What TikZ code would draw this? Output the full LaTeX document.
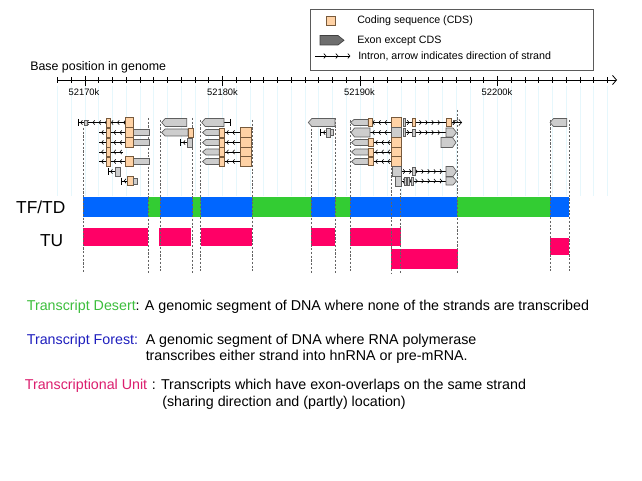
\documentclass[tikz,border=0pt]{standalone}
\usepackage{fontspec}
\setmainfont{Liberation Sans}
\usetikzlibrary{arrows.meta,decorations.markings}
\definecolor{tdgreen}{RGB}{51,204,51}
\definecolor{tfblue}{RGB}{0,102,255}
\definecolor{tupink}{RGB}{255,0,102}
\definecolor{txtgreen}{RGB}{60,190,60}
\definecolor{txtblue}{RGB}{30,30,190}
\definecolor{txtpink}{RGB}{220,30,110}
\definecolor{cdsfill}{RGB}{255,210,165}
\definecolor{cdsline}{RGB}{120,90,60}
\definecolor{utrfill}{RGB}{205,205,205}
\definecolor{utrline}{RGB}{95,95,95}
\definecolor{legexon}{RGB}{110,110,110}
\definecolor{gridc}{RGB}{230,247,252}
\definecolor{dashc}{RGB}{100,100,100}
\newcommand{\rwA}{122.5}
\newcommand{\rwB}{132.5}
\newcommand{\rwC}{142.5}
\newcommand{\rwD}{152}
\newcommand{\rwE}{161.5}
\newcommand{\rwF}{171.5}
\newcommand{\rwG}{181}
\newcommand{\gnCds}[4]{\draw[cdsst] (#1,{#3-#4/2}) rectangle (#2,{#3+#4/2});}
\newcommand{\gnBox}[4]{\draw[utrst] (#1,{#3-#4/2}) rectangle (#2,{#3+#4/2});}
\newcommand{\gnPL}[4]{\draw[utrst] (#1,#3) -- ({#1+3.5},{#3-#4/2}) -- (#2,{#3-#4/2}) -- (#2,{#3+#4/2}) -- ({#1+3.5},{#3+#4/2}) -- cycle;}
\newcommand{\gnPR}[4]{\draw[utrst] (#2,#3) -- ({#2-3.5},{#3-#4/2}) -- (#1,{#3-#4/2}) -- (#1,{#3+#4/2}) -- ({#2-3.5},{#3+#4/2}) -- cycle;}
\newcommand{\gnIL}[3]{\draw[intronL] (#1,#3) -- (#2,#3);}
\newcommand{\gnIR}[3]{\draw[intronR] (#1,#3) -- (#2,#3);}
\newcommand{\gnTk}[2]{\draw[tickst] (#1,{#2-3.5}) -- (#1,{#2+3.5});}
\begin{document}
\begin{tikzpicture}[x=0.75pt,y=-0.75pt,
  cdsst/.style={draw=cdsline,fill=cdsfill,line width=0.5pt},
  utrst/.style={draw=utrline,fill=utrfill,line width=0.5pt},
  tickst/.style={draw=black,line width=0.5pt},
  intronL/.style={draw=black,line width=0.45pt,postaction=decorate,
    decoration={markings,mark=between positions 2pt and -1pt step 4.6pt with {\draw[line width=0.45pt] (1.3pt,-1.6pt) -- (0,0) -- (1.3pt,1.6pt);}}},
  intronR/.style={draw=black,line width=0.45pt,postaction=decorate,
    decoration={markings,mark=between positions 3pt and -1pt step 4.6pt with {\draw[line width=0.45pt] (-1.3pt,-1.6pt) -- (0,0) -- (-1.3pt,1.6pt);}}},
  axisst/.style={draw=black,line width=0.6pt},
  gridst/.style={draw=gridc,line width=0.5pt},
  dashst/.style={draw=dashc,line width=0.45pt,dash pattern=on 1.6pt off 1.2pt},
  lbl/.style={inner sep=0pt,anchor=base west},
  legtxt/.style={lbl,font=\fontsize{8}{9.6}\selectfont},
  deftxt/.style={lbl,font=\fontsize{10.7}{12.8}\selectfont},
  ticklbl/.style={inner sep=0pt,anchor=base,font=\fontsize{7}{8}\selectfont}
]
\useasboundingbox (0,0) rectangle (642,481);
\fill[white] (0,0) rectangle (642,481);

% legend
\draw[draw={rgb,255:red,90;green,90;blue,90},line width=0.6pt] (310,9.5) rectangle (593,70);
\draw[cdsst] (326,16) rectangle (335,25);
\draw[draw=black!75,fill=legexon,line width=0.5pt] (320,35.5) -- (338,35.5) -- (344,40.3) -- (338,45) -- (320,45) -- cycle;
\coordinate (lga) at (315,56);
\coordinate (lgb) at (350,56);
\draw[tickst,line width=0.45pt] (lga) -- (lgb);
\foreach \xx in {326,338,350} \draw[line width=0.45pt] ({\xx-2.2},53.6) -- (\xx,56) -- ({\xx-2.2},58.4);
\node[legtxt] (lg1) at (357,24) {Coding sequence (CDS)};
\node[legtxt] (lg2) at (357,44) {Exon except CDS};
\node[legtxt] (lg3) at (358,59.5) {Intron, arrow indicates direction of strand};

% axis
\node[lbl,font=\fontsize{9.3}{11}\selectfont] (basepos) at (30,71) {Base position in genome};
\foreach \k in {-2,...,38} \draw[gridst] ({85+\k*13.75},86) -- ({85+\k*13.75},196);
\coordinate (axs) at (58,80);
\coordinate (axe) at (617,80);
\draw[axisst,-{Straight Barb[length=3pt,width=7pt]}] (axs) -- (axe);
\foreach \k in {-2,...,38} \draw[axisst,line width=0.5pt] ({85+\k*13.75},77.3) -- ({85+\k*13.75},82.7);
\foreach \k in {0,10,20,30} \draw[axisst] ({85+\k*13.75},76) -- ({85+\k*13.75},86.5);
\node[ticklbl] (t1) at (84,95.3) {52170k};
\node[ticklbl] (t2) at (222.5,95.3) {52180k};
\node[ticklbl] (t3) at (359.5,95.3) {52190k};
\node[ticklbl] (t4) at (497,95.3) {52200k};

% bars
\fill[tfblue] (82.7,196.5) rectangle (569.4,216.5);
\foreach \a/\b in {147.5/159.5,192.5/200.7,252/311,335/350.3,457.3/550.2}
  \fill[tdgreen] (\a,196.5) rectangle (\b,216.5);
\foreach \a/\b/\c/\d in {83.2/228/147.5/246, 159/227.5/191/245.5, 200.7/228/252/246, 311.3/228/335/246, 350.3/228/400.7/246, 391.2/248.5/457.6/268.5, 550/238/569.4/255}
  \fill[tupink] (\a,\b) rectangle (\c,\d);
\node[inner sep=0pt,anchor=base east,font=\fontsize{13}{15}\selectfont] (tftd) at (65.6,213) {TF/TD};
\node[inner sep=0pt,anchor=base east,font=\fontsize{13}{15}\selectfont] (tu) at (63.5,246.2) {TU};

% dashed boundaries
\foreach \xx/\yy in {83.2/128,148.3/118,159.8/120,192.5/118,200.7/120,252/120,311.3/125,335.1/118,350.3/120,391.2/168,400.7/118,457.6/110,550.2/120,569.4/120}
  \draw[dashst] (\xx,\yy) -- (\xx,273);

% group A
\gnIL{78}{125}{\rwA} \gnTk{78}{\rwA}
\gnBox{84.5}{87.5}{\rwA}{5}
\gnCds{106}{110.5}{\rwA}{9} \gnCds{125}{133}{\rwA}{10}
\foreach \yy in {\rwB,\rwC,\rwE}{
  \gnIL{99}{125}{\yy}
  \gnBox{133}{149.5}{\yy}{6}
  \gnCds{106}{110.5}{\yy}{9} \gnCds{125}{133}{\yy}{10}
}
\gnIL{99}{123}{\rwD} \gnCds{106}{110.5}{\rwD}{9}
\gnIL{108}{115}{\rwF} \gnTk{108}{\rwF} \gnBox{115}{120.5}{\rwF}{9}
\gnIL{121.5}{127}{\rwG} \gnTk{121.5}{\rwG} \gnCds{127}{133}{\rwG}{9} \gnBox{133}{137}{\rwG}{6}

% group B
\gnPL{161.7}{186.7}{\rwA}{8}
\gnPL{161.7}{188}{\rwB}{7} \gnCds{188}{193.3}{\rwB}{9}
\gnIL{180.7}{187.3}{\rwC} \gnTk{180.7}{\rwC} \gnBox{187.3}{192.7}{\rwC}{9}

% group C
\draw[tickst] (224,\rwA) -- (230,\rwA); \gnTk{230}{\rwA}
\gnPL{201.7}{224}{\rwA}{8}
\foreach \yy in {\rwB,\rwC,\rwD,\rwE}{
  \gnIL{224}{240}{\yy}
  \gnPL{202.5}{219.3}{\yy}{6}
  \gnCds{219.3}{224}{\yy}{9}
  \gnCds{240}{251.7}{\yy}{10}
}

% group D
\gnPL{308.3}{335}{\rwA}{8}
\gnIL{320.7}{326.7}{\rwB} \gnTk{320.7}{\rwB}
\gnBox{330.5}{333.3}{\rwB}{6} \gnBox{326.7}{330.5}{\rwB}{9}

% group E
\gnIL{370}{391.5}{\rwA}
\gnPL{350.5}{368.3}{\rwA}{6} \gnCds{368.3}{372.7}{\rwA}{8} \gnCds{391.5}{401}{\rwA}{10}
\gnIR{405}{446}{\rwA}
\draw[intronR,-{Straight Barb[length=2pt,width=4.5pt]}] (451,\rwA) -- (462,\rwA);
\gnBox{403}{405.5}{\rwA}{8} \gnCds{412}{415.5}{\rwA}{8} \gnCds{446}{451}{\rwA}{8}

\gnIL{370}{391.5}{\rwB}
\gnPL{351}{370}{\rwB}{9} \gnBox{391.5}{401}{\rwB}{10}
\gnIR{405}{446}{\rwB}
\gnBox{403}{405.5}{\rwB}{8} \gnBox{412}{415}{\rwB}{7} \gnPR{446}{456.5}{\rwB}{9}

\foreach \yy in {\rwC,\rwD,\rwE}{
  \gnIL{373}{391.5}{\yy}
  \gnPL{351.5}{368.3}{\yy}{6}
  \gnCds{368.3}{373}{\yy}{8}
  \gnCds{391.5}{401}{\yy}{10}
}
\gnPR{441}{456}{\rwC}{10}

\gnIR{401}{446}{\rwF}
\gnBox{392}{401}{\rwF}{10} \gnBox{412}{415}{\rwF}{8} \gnPR{446}{456.5}{\rwF}{10}

\gnIR{401}{446}{\rwG}
\gnBox{395}{401}{\rwG}{10}
\gnBox{404}{406}{\rwG}{8} \gnBox{407.5}{409.5}{\rwG}{8} \gnBox{411}{413.5}{\rwG}{8}
\gnPR{446}{456.5}{\rwG}{8}

% group F
\gnPL{550}{566.7}{\rwA}{8}

% definitions
\node[deftxt] (desert) at (26.6,310) {\textcolor{txtgreen}{Transcript Desert}: A genomic segment of DNA where none of the strands are transcribed};
\node[deftxt] (forestlbl) at (26.6,344) {\textcolor{txtblue}{Transcript Forest:}};
\node[deftxt] (forest1) at (145.5,344) {A genomic segment of DNA where RNA polymerase};
\node[deftxt] (forest2) at (145.5,360.7) {transcribes either strand into hnRNA or pre-mRNA.};
\node[deftxt] (unitlbl) at (24.6,389) {\textcolor{txtpink}{Transcriptional Unit}};
\node[deftxt] (unit1) at (151.5,389) {: Transcripts which have exon-overlaps on the same strand};
\node[deftxt] (unit2) at (162,406.7) {(sharing direction and (partly) location)};
\end{tikzpicture}
\end{document}
